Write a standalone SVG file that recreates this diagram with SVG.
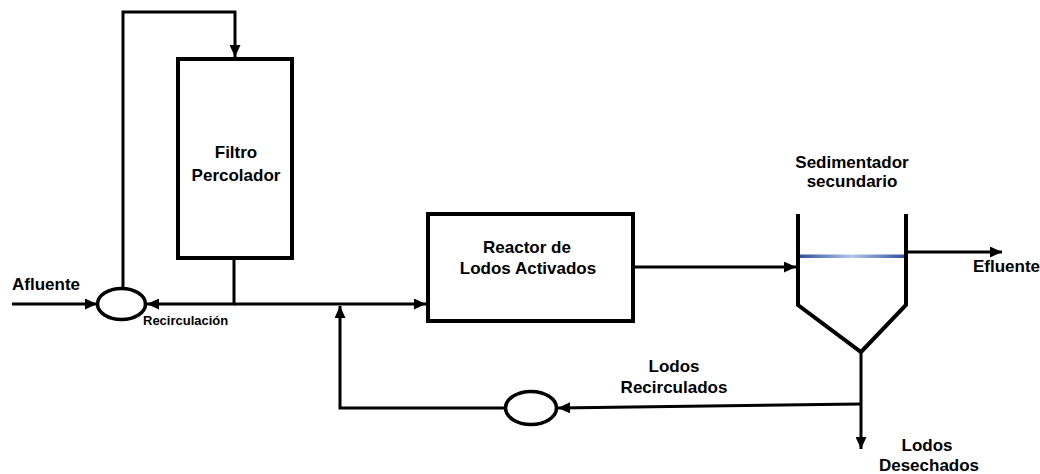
<svg xmlns="http://www.w3.org/2000/svg" width="1040" height="474" viewBox="0 0 1040 474">
  <defs>
    <style>
      .lbl { font-family: "Liberation Sans", Arial, sans-serif; font-weight: bold; font-size: 17px; fill: #000; }
      .sm { font-size: 13px; }
      .box { fill: #fff; stroke: #000; stroke-width: 4; }
      .ln { fill: none; stroke: #000; stroke-width: 3; }
      .wall { fill: none; stroke: #000; stroke-width: 4; stroke-linejoin: miter; }
    </style>
    <marker id="arr" markerUnits="userSpaceOnUse" markerWidth="12" markerHeight="11" refX="12" refY="5.5" orient="auto">
      <path d="M0,0 L12,5.5 L0,11 z" fill="#000"/>
    </marker>
    <linearGradient id="water" x1="0" y1="0" x2="1" y2="0">
      <stop offset="0" stop-color="#2F4F9B"/>
      <stop offset="0.5" stop-color="#B4C8EA"/>
      <stop offset="1" stop-color="#2F4F9B"/>
    </linearGradient>
  </defs>

  <g id="connectors">
    <path class="ln" d="M12,304 H97" marker-end="url(#arr)"/>
    <path class="ln" d="M123,288 V12 H235 V57" marker-end="url(#arr)"/>
    <path class="ln" d="M234,258 V304 H147" marker-end="url(#arr)"/>
    <path class="ln" d="M234,304 H426" marker-end="url(#arr)"/>
    <path class="ln" d="M505,408 H340 V306" marker-end="url(#arr)"/>
    <path class="ln" d="M635,267 H796" marker-end="url(#arr)"/>
    <path class="ln" d="M906,252 H1002" marker-end="url(#arr)"/>
    <path class="ln" d="M861,352 V449" marker-end="url(#arr)"/>
    <path class="ln" d="M861,404 L558,408" marker-end="url(#arr)"/>
  </g>

  <g id="afluente">
    <text class="lbl" x="12" y="290">Afluente</text>
  </g>

  <g id="mezcla">
    <ellipse class="box" cx="121.5" cy="304" rx="24" ry="15.5" style="stroke-width:3.5"/>
    <text class="lbl sm" x="143" y="325">Recirculación</text>
  </g>

  <g id="filtro">
    <rect class="box" x="178" y="59" width="114" height="199"/>
    <text class="lbl" x="236" y="158" text-anchor="middle">Filtro</text>
    <text class="lbl" x="236" y="181" text-anchor="middle">Percolador</text>
  </g>

  <g id="reactor">
    <rect class="box" x="428" y="214" width="205" height="107"/>
    <text class="lbl" x="527" y="253" text-anchor="middle">Reactor de</text>
    <text class="lbl" x="528" y="274" text-anchor="middle">Lodos Activados</text>
  </g>

  <g id="sedimentador">
    <text class="lbl" x="852" y="168" text-anchor="middle">Sedimentador</text>
    <text class="lbl" x="852" y="187" text-anchor="middle">secundario</text>
    <rect x="799" y="254.5" width="106" height="3.5" fill="url(#water)"/>
    <path class="wall" d="M798,214 V305 L861,352 L906,305 V214"/>
  </g>

  <g id="efluente">
    <text class="lbl" x="973" y="272">Efluente</text>
  </g>

  <g id="bomba">
    <ellipse class="box" cx="531" cy="408" rx="25.5" ry="16.5" style="stroke-width:3.5"/>
    <text class="lbl" x="674" y="372" text-anchor="middle">Lodos</text>
    <text class="lbl" x="674" y="393" text-anchor="middle">Recirculados</text>
  </g>

  <g id="desechados">
    <text class="lbl" x="927" y="451" text-anchor="middle">Lodos</text>
    <text class="lbl" x="929" y="471" text-anchor="middle">Desechados</text>
  </g>
</svg>
